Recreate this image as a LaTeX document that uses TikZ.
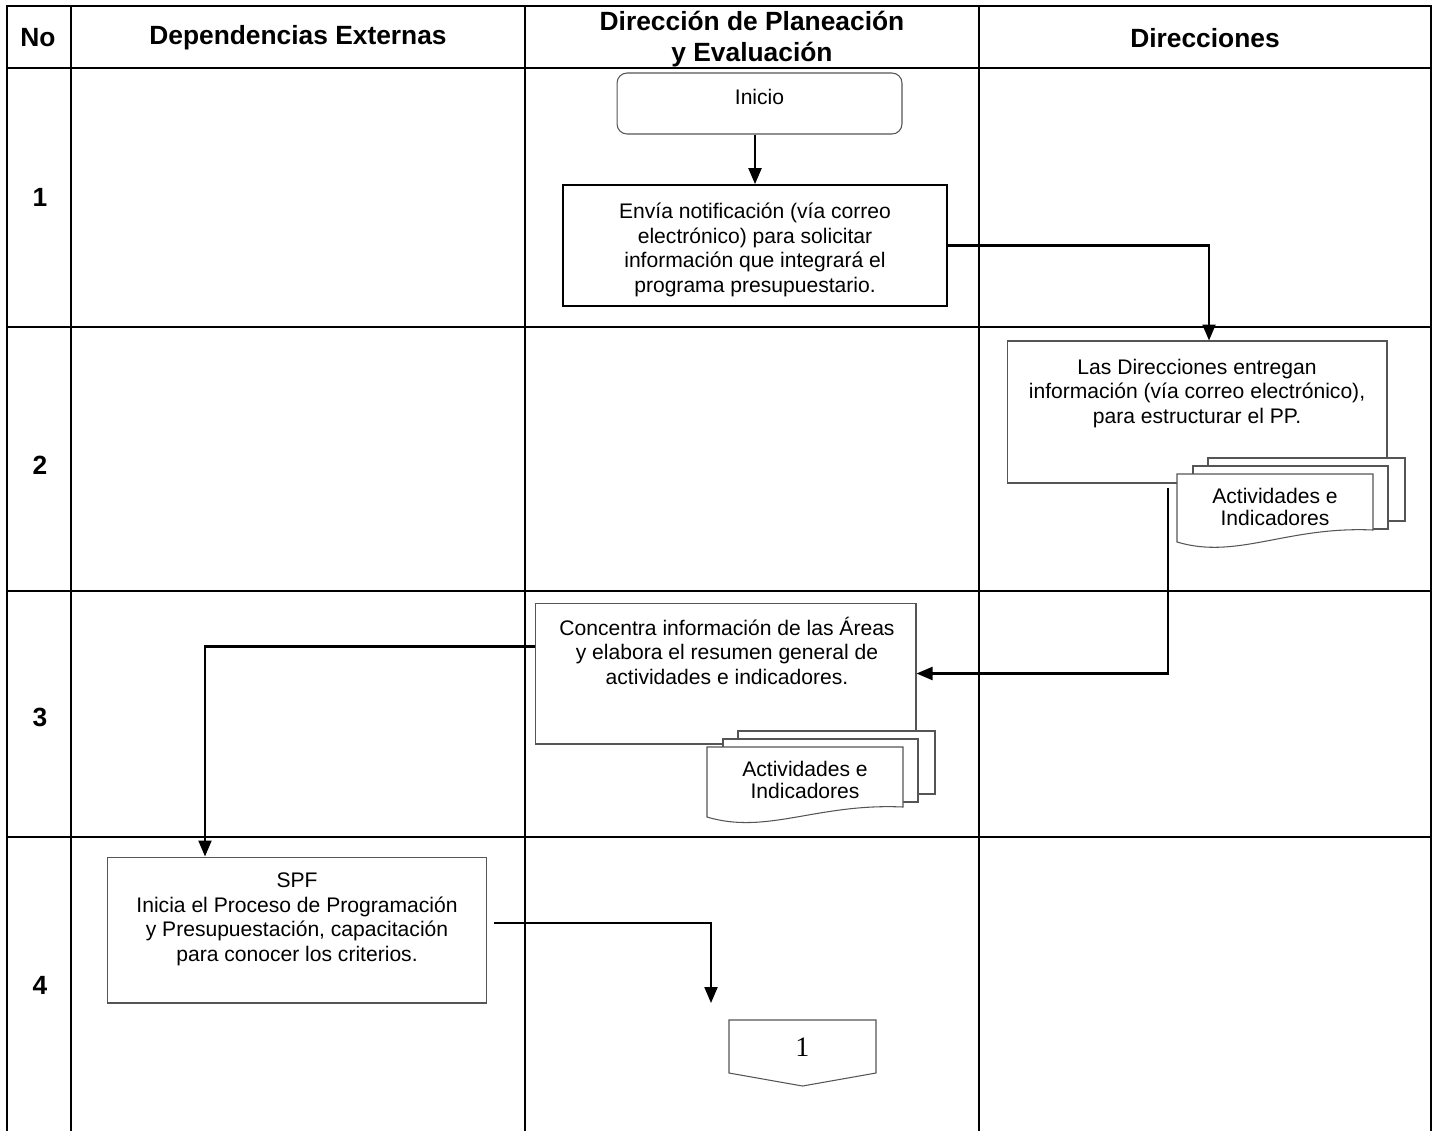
\documentclass[tikz,border=0pt]{standalone}
\usepackage{fontspec}
\setmainfont{Liberation Sans}
\newfontfamily\numfont{Liberation Serif}
\usetikzlibrary{arrows.meta,positioning,calc}
\definecolor{edgegray}{RGB}{85,85,85}

\begin{document}
\begin{tikzpicture}[x=0.02cm, y=-0.02cm,
  grid/.style={line width=1.5pt, line cap=rect},
  flow/.style={line width=1.2pt, -{Triangle[length=0.32cm,width=0.26cm]}},
  head/.style={font=\fontsize{15}{17.5}\selectfont\bfseries, align=center},
  txt/.style={font=\fontsize{12}{13.9}\selectfont, align=center, inner sep=0pt},
  doctxt/.style={font=\fontsize{12}{12.5}\selectfont, align=center, inner sep=0pt},
  proc/.style={draw=edgegray, line width=0.6pt, fill=white, inner sep=0pt},
  page/.style={draw=edgegray, line width=0.6pt, fill=white}]
\useasboundingbox (0,0) rectangle (1435,1130);

% Lanes and rows
\draw[grid] (7,6) -- (1431,6);
\foreach \yy in {68,327,591,837}
  \draw[grid] (7,\yy) -- (1431,\yy);
\foreach \xx in {7,71,525,979,1431}
  \draw[grid] (\xx,6) -- (\xx,1130);

% Header
\node[head] (hno) at (38,38) {No};
\node[head] (hdep) at (298,38) {Dependencias Externas};
\node[head] (hdpe) at (752,39) {Dirección de Planeación\\y Evaluación};
\node[head] (hdir) at (1205,38) {Direcciones};
\foreach \n/\yy in {1/197,2/465,3/717,4/985}
  \node[head] (row\n) at (40,\yy) {\n};

% Step 1
\node[proc, rounded corners=0.2cm, minimum width=5.7cm, minimum height=1.22cm] (inicio) at (759.5,103.5) {};
\node[txt, anchor=base] (tinicio) at (759.5,104) {Inicio};
\node[proc, draw=black, line width=1pt, minimum width=7.68cm, minimum height=2.42cm] (envia) at (755,245.5) {};
\node[txt, anchor=base] (tenvia) at (755,292)
  {Envía notificación (vía correo\\electrónico) para solicitar\\información que integrará el\\programa presupuestario.};

% Step 2
\node[proc, minimum width=7.6cm, minimum height=2.84cm] (dirs) at (1197,412) {};
\node[txt, anchor=base] (tdirs) at (1197,423)
  {Las Direcciones entregan\\información (vía correo electrónico),\\para estructurar el PP.};
\begin{scope}[shift={(1177,474)}]
  \draw[page] (31,-16) rectangle (228,47);
  \draw[page] (16,-8) rectangle (211,55);
  \draw[page] (0,68) -- (0,0) -- (196,0) -- (196,56) .. controls (110,52) and (60,86) .. (0,68) -- cycle;
  \node[doctxt, anchor=base] (docs2) at (98,51) {Actividades e\\Indicadores};
\end{scope}

% Step 3
\node[proc, minimum width=7.62cm, minimum height=2.82cm] (concentra) at (725.5,673.5) {};
\node[txt, anchor=base] (tconcentra) at (727,684)
  {Concentra información de las Áreas\\y elabora el resumen general de\\actividades e indicadores.};
\begin{scope}[shift={(707,747)}]
  \draw[page] (31,-16) rectangle (228,47);
  \draw[page] (16,-8) rectangle (211,55);
  \draw[page] (0,70) -- (0,0) -- (196,0) -- (196,60) .. controls (110,56) and (60,88) .. (0,70) -- cycle;
  \node[doctxt, anchor=base] (docs3) at (98,51) {Actividades e\\Indicadores};
\end{scope}

% Step 4
\node[proc, minimum width=7.6cm, minimum height=2.92cm] (spf) at (297,930) {};
\node[txt, anchor=base] (tspf) at (297,961)
  {SPF\\Inicia el Proceso de Programación\\y Presupuestación, capacitación\\para conocer los criterios.};
\draw[page] (729,1020) -- (876,1020) -- (876,1073) -- (802.5,1086) -- (729,1073) -- cycle;
\node[font=\numfont\fontsize{16}{18}\selectfont] (pag1) at (802.5,1047) {1};
\coordinate (c1) at (711,1003);

% Connectors
\draw[flow] (envia.north |- inicio.south) -- (envia.north);
\draw[flow] (envia.east) -| ($(dirs.north)+(12,0)$);
\draw[flow] ($(dirs.south)+(-29,4)$) |- (concentra.east);
\draw[flow] ($(concentra.west)+(0,-27)$) -| ($(spf.north)+(-92,0)$);
\draw[flow] ($(spf.east)+(7,-7)$) -| (c1);
\end{tikzpicture}
\end{document}
